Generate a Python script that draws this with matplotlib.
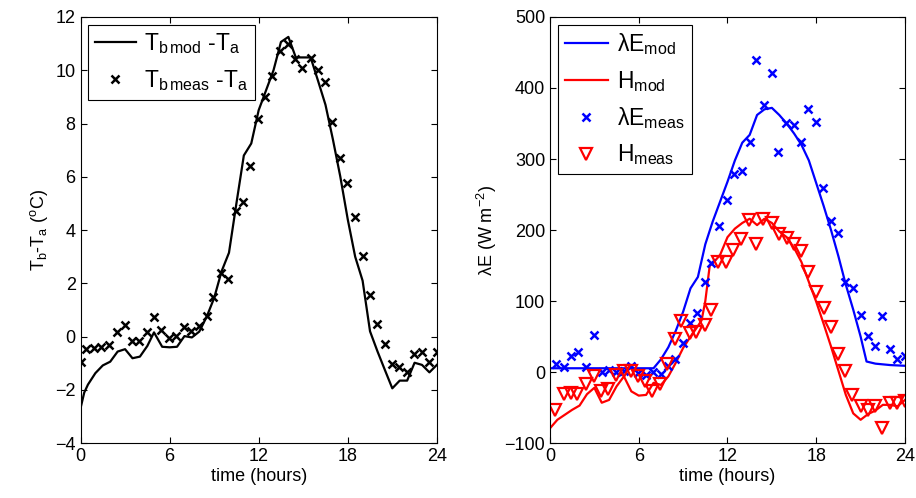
import numpy as np
import matplotlib as mpl
mpl.use('Agg')
import matplotlib.pyplot as plt

plt.rcParams['font.family'] = ['Liberation Sans', 'DejaVu Sans']
plt.rcParams['mathtext.fontset'] = 'custom'
plt.rcParams['mathtext.rm'] = 'Liberation Sans'
plt.rcParams['mathtext.it'] = 'Liberation Sans:italic'
plt.rcParams['mathtext.bf'] = 'Liberation Sans:bold'

# ---- Left panel: surface - air temperature difference ----
t_tmod = [0, 0.25, 0.5, 1.0, 1.5, 2.0, 2.5, 3.0, 3.5, 4.0, 4.5, 4.95, 5.5, 6.0, 6.5,
          7.0, 7.5, 8.0, 8.5, 9.0, 9.5, 10.0, 10.5, 11.0, 11.5, 12.0, 12.5, 13.0,
          13.5, 14.0, 14.5, 15.0, 15.5, 16.0, 16.5, 17.0, 17.5, 18.0, 18.5, 19.0,
          19.5, 20.0, 20.5, 21.0, 21.5, 22.0, 22.5, 23.0, 23.5, 24.0]
dT_mod = [-2.69, -2.1, -1.8, -1.37, -1.08, -0.94, -0.56, -0.47, -0.81, -0.75, -0.35,
          0.16, -0.38, -0.4, -0.38, 0.02, -0.03, 0.19, 0.75, 1.45, 2.45, 3.15, 5.0,
          6.8, 7.25, 8.5, 9.25, 10.0, 11.06, 11.25, 10.48, 10.48, 10.48, 9.6, 8.7,
          7.4, 6.0, 4.4, 3.0, 2.1, 0.2, -0.55, -1.25, -1.94, -1.65, -1.65, -0.98,
          -1.06, -1.34, -1.06]

t_tmeas = [0, 0.4, 0.9, 1.4, 1.9, 2.45, 3.0, 3.5, 3.95, 4.45, 4.95, 5.45, 5.95, 6.45,
           6.95, 7.45, 7.95, 8.5, 8.95, 9.45, 9.95, 10.45, 10.95, 11.4, 11.93, 12.45,
           12.92, 13.45, 13.95, 14.45, 14.95, 15.5, 15.97, 16.45, 16.97, 17.5, 17.97,
           18.48, 19.0, 19.47, 19.97, 20.5, 20.97, 21.47, 22.0, 22.47, 22.97, 23.49, 24.0]
dT_meas = [-0.96, -0.46, -0.44, -0.38, -0.31, 0.19, 0.43, -0.15, -0.15, 0.19, 0.73,
           0.25, -0.06, 0.02, 0.35, 0.21, 0.40, 0.79, 1.5, 2.4, 2.17, 4.71, 5.04, 6.41,
           8.16, 8.99, 9.77, 10.73, 10.99, 10.41, 10.1, 10.44, 9.99, 9.54, 8.06, 6.69,
           5.78, 4.49, 3.03, 1.56, 0.46, -0.28, -1.02, -1.13, -1.33, -0.64, -0.56,
           -0.94, -0.56]

# ---- Right panel: latent and sensible heat fluxes ----
t_lemod = [0, 7.0, 7.5, 8.0, 8.5, 9.0, 9.5, 10.0, 10.5, 11.0, 11.5, 12.0, 12.5, 13.0,
           13.5, 14.0, 14.5, 15.0, 15.5, 16.0, 16.5, 17.0, 17.5, 18.0, 18.5, 19.0,
           19.5, 20.0, 20.5, 21.0, 21.4, 22.0, 23.0, 24.0]
le_mod = [5.5, 5.5, 18, 35, 58, 85, 118, 134, 180, 212, 240, 268, 298, 323, 334, 362,
          370, 372, 362, 350, 336, 320, 298, 266, 234, 200, 163, 123, 88, 50, 15, 12,
          10, 9]

t_hmod = [0, 0.5, 1.0, 1.5, 2.0, 2.5, 3.0, 3.5, 4.0, 4.5, 5.0, 5.5, 6.0, 6.5, 7.0,
          7.5, 8.0, 8.5, 9.0, 9.5, 10.0, 10.25, 10.5, 10.8, 11.0, 11.5, 12.0, 12.5,
          13.0, 13.5, 14.0, 14.5, 15.0, 15.5, 16.0, 16.5, 17.0, 17.5, 18.0, 18.5,
          19.0, 19.5, 20.0, 20.5, 21.0, 21.5, 22.0, 22.5, 23.0, 23.5, 24.0]
h_mod = [-79, -67, -60, -53, -47, -31, -22, -43, -39, -20, -6, -27, -33, -32, -15, -18,
         -6, 13, 34, 50, 65, 73, 100, 150, 153, 165, 190, 202, 210, 216, 207, 216, 210,
         198, 190, 175, 155, 127, 99, 68, 36, 2, -32, -58, -67, -59, -54, -46, -46,
         -48, -39]

t_lemeas = [0.43, 0.93, 1.44, 1.9, 2.46, 2.98, 3.52, 3.99, 4.43, 4.98, 5.46, 5.95, 6.47,
            6.96, 7.48, 7.98, 8.48, 9.0, 9.45, 9.95, 10.46, 10.91, 11.45, 11.97, 12.44,
            12.98, 13.5, 13.95, 14.47, 14.99, 15.4, 15.98, 16.5, 16.95, 17.47, 18.01,
            18.46, 18.98, 19.5, 19.93, 20.49, 21.0, 21.5, 21.95, 22.47, 22.97, 23.49, 24.0]
le_meas = [11.5, 7.7, 22.8, 28.8, 7.7, 52.3, 0.7, 3.1, 0.7, 2.1, 8.7, -0.7, -4, 0.7,
           -2.5, 8, 19, 40.6, 69, 82.8, 127.3, 153.2, 206, 243, 278.8, 283.4, 324.2, 440,
           375.8, 420.4, 310, 351, 347.7, 323.4, 369.8, 352.3, 258.6, 212.7, 196, 127.3,
           118, 80.5, 51.3, 36.8, 79, 32.2, 18.1, 22.8]

t_hmeas = [0.36, 0.93, 1.4, 1.85, 2.41, 2.95, 3.47, 3.92, 4.44, 4.98, 5.46, 5.95, 6.4,
           6.9, 7.42, 7.94, 8.43, 8.88, 9.45, 9.9, 10.45, 10.9, 11.36, 11.93, 12.4, 12.94,
           13.45, 13.9, 14.4, 15.03, 15.5, 16.0, 16.5, 17.0, 17.45, 18.01, 18.5, 19.02,
           19.47, 19.97, 20.45, 21.0, 21.5, 22.0, 22.47, 22.97, 23.49, 24.0]
h_meas = [-53, -31, -30, -31, -17, -6, -27, -24, -4, 2, 1, -6, -13, -26, -16, 12, 46,
          72, 55, 57, 66, 88, 155, 155, 172, 188, 214, 181, 216, 210, 194, 189, 181, 170,
          141, 113, 90, 64, 26, 2, -32, -48, -53, -48, -79, -43, -43, -40]

hour_ticks = [0, 6, 12, 18, 24]

fg = plt.figure(figsize=(9.16, 4.98), dpi=100)
ax1 = fg.add_axes([0.0879, 0.110, 0.389, 0.856])
ax2 = fg.add_axes([0.6004, 0.110, 0.3876, 0.856])

for a in (ax1, ax2):
  a.tick_params(direction='in', top=True, right=True, labelsize=13, length=4, width=0.8)
  a.set_xlim(0, 24)
  a.set_xticks(hour_ticks)
  a.set_xlabel('time (hours)', fontsize=13, labelpad=2)
  for s in a.spines.values():
    s.set_linewidth(0.8)

# Left
ax1.plot(t_tmod, dT_mod, color='k', lw=1.6, label=r'T$_{\rm b\,mod}$ -T$_{\rm a}$')
ax1.plot(t_tmeas, dT_meas, 'x', color='k', ms=6, mew=1.8, label=r'T$_{\rm b\,meas}$ -T$_{\rm a}$')
ax1.set_ylim(-4, 12)
ax1.set_yticks(np.arange(-4, 13, 2))
ax1.set_ylabel(r'T$_{\rm b}$-T$_{\rm a}$ ($^{\rm o}$C)', fontsize=13, labelpad=4)
leg1 = ax1.legend(loc='upper left', bbox_to_anchor=(0.02, 0.982), borderaxespad=0,
                  fontsize=16.5, fancybox=False, edgecolor='k', framealpha=1,
                  handlelength=1.8, labelspacing=0.5, borderpad=0.3, handletextpad=0.35)
leg1.get_frame().set_linewidth(0.8)

# Right
ax2.plot(t_lemod, le_mod, color='#0000ff', lw=1.6, label=r'λE$_{\rm mod}$')
ax2.plot(t_hmod, h_mod, color='#ff0000', lw=1.6, label=r'H$_{\rm mod}$')
ax2.plot(t_lemeas, le_meas, 'x', color='#0000ff', ms=6, mew=1.8, label=r'λE$_{\rm meas}$')
ax2.plot(t_hmeas, h_meas, 'v', mfc='none', mec='#ff0000', ms=9, mew=1.6, label=r'H$_{\rm meas}$')
ax2.set_ylim(-100, 500)
ax2.set_yticks(np.arange(-100, 501, 100))
ax2.set_ylabel(r'λE (W m$^{-2}$)', fontsize=13, labelpad=4)
leg2 = ax2.legend(loc='upper left', bbox_to_anchor=(0.022, 0.982), borderaxespad=0,
                  fontsize=16.5, fancybox=False, edgecolor='k', framealpha=1,
                  handlelength=1.9, labelspacing=0.5, borderpad=0.3, handletextpad=0.4)
leg2.get_frame().set_linewidth(0.8)

fg.savefig('out.png', dpi=100)
